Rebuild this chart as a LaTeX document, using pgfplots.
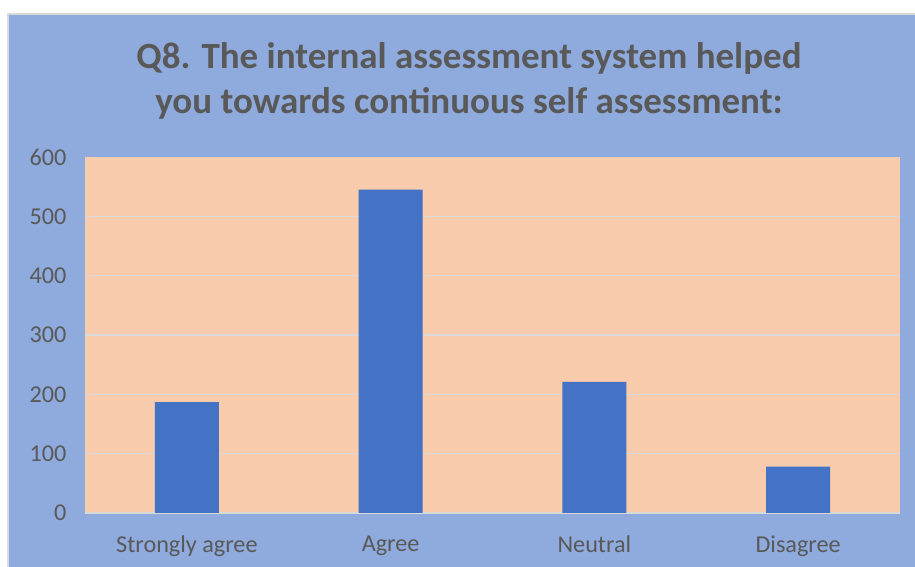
\documentclass[border=0pt]{standalone}
\usepackage{fontspec}
\setmainfont{Carlito}
\usepackage{pgfplots}
\pgfplotsset{compat=1.18}

\definecolor{chartbg}{HTML}{8FAADC}
\definecolor{plotbg}{HTML}{F8CBAD}
\definecolor{barblue}{HTML}{4472C4}
\definecolor{gridgray}{HTML}{D9D9D9}
\definecolor{textgray}{HTML}{595959}

\begin{document}
\begin{tikzpicture}[x=1bp,y=1bp]
\useasboundingbox (0,0) rectangle (915,567);
\fill[white] (0,0) rectangle (915,567);
\fill[chartbg] (8,0) rectangle (915,553);
\draw[gridgray,line width=1.2bp] (8,0) -- (8,553) -- (915,553);

% title
\node[anchor=base,text=textgray,font=\fontsize{37bp}{44bp}\selectfont\bfseries]
  at (469,498) {Q8. The internal assessment system helped};
\node[anchor=base,text=textgray,font=\fontsize{37bp}{44bp}\selectfont\bfseries]
  at (469,453) {you towards continuous self assessment:};

\begin{axis}[
    at={(85bp,54bp)}, anchor=south west,
    scale only axis,
    width=815bp, height=356bp,
    ybar, bar width=64bp,
    xmin=-0.5, xmax=3.5,
    ymin=0, ymax=600,
    axis background/.style={fill=plotbg},
    axis line style={draw=none},
    xtick=data,
    xticklabels={Strongly agree,Agree,Neutral,Disagree},
    ytick={0,100,...,500},
    extra y ticks={600},
    extra y tick style={grid=none},
    ymajorgrids,
    grid style={gridgray,line width=1.5bp},
    major tick length=0pt,
    tick label style={text=textgray,font=\fontsize{24.2bp}{29bp}\selectfont},
    /pgf/number format/assume math mode=true,
    yticklabel style={xshift=-15bp},
    xticklabel style={yshift=-19bp},
]
\addplot[fill=barblue,draw=none] coordinates {
    (0,187) (1,545) (2,221) (3,78)
};
\end{axis}
\end{tikzpicture}
\end{document}
